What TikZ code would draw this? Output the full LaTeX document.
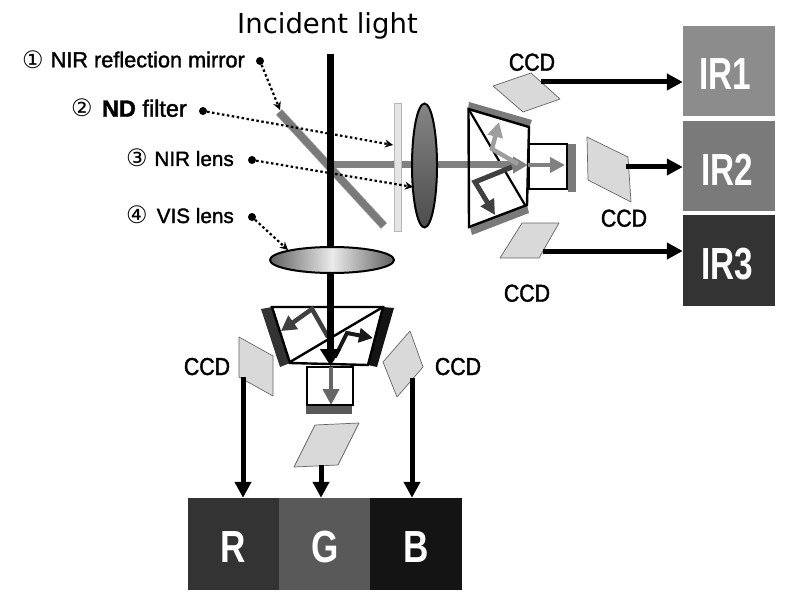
\documentclass[tikz,border=0pt]{standalone}
\usepackage{fontspec}
\setmainfont{Liberation Sans}
\newfontfamily\djv{DejaVu Sans}
\newfontfamily\labf[FakeBold=1.6]{Liberation Sans}
\newfontfamily\ccdf[FakeStretch=0.87,FakeBold=1.6]{Liberation Sans}
\newfontfamily\irf[FakeStretch=0.74]{Liberation Sans}
\newfontfamily\rgbf[FakeStretch=0.78]{Liberation Sans}
\usetikzlibrary{arrows.meta,calc}
\tikzset{
  x=1pt,y=-1pt,
  ccd/.style={draw=black!60,fill=black!15,line width=0.7pt,line join=round},
  prism/.style={draw=black,line width=2.4pt,line join=miter},
  coat/.style={fill=#1,draw=none},
  sig/.style={line width=5pt,-{Triangle[length=16pt,width=16pt]}},
  leader/.style={line width=2.2pt,dash pattern=on 2.5pt off 2.5pt,-{Stealth[length=8pt,width=8pt]}},
  dot/.style={circle,fill=black,inner sep=0pt,minimum size=8pt},
  lab/.style={font=\labf\fontsize{21.7}{22}\selectfont,inner sep=0pt,anchor=base east},
  ccdlab/.style={font=\ccdf\fontsize{24.5}{26}\selectfont,inner sep=0pt,anchor=base},
  chan/.style={inner sep=0pt,minimum height=#1},
  irtext/.style={font=\irf\bfseries\fontsize{45}{46}\selectfont,text=white,inner sep=0pt,anchor=base},
  rgbtext/.style={font=\rgbf\bfseries\fontsize{45}{46}\selectfont,text=white,inner sep=0pt,anchor=base},
  numlab/.style={font=\djv\fontsize{24}{25}\selectfont,inner sep=0pt},
}
\begin{document}
\begin{tikzpicture}
\useasboundingbox (0,0) rectangle (786,596);
% title
\node[font=\djv\fontsize{27.5}{29}\selectfont,inner sep=0pt] (title) at (327.5,26) {Incident light};
% coordinates for light path
\coordinate (in) at (330.5,54);
\coordinate (split) at (330.5,165);
\coordinate (gtop) at (330.5,366);
% mirror
\coordinate (m1) at (279,112);
\coordinate (m2) at (384,226);
\draw[line width=8.4pt,black!35] (m1) -- (m2);
\draw[line width=7pt,black!52,shorten >=0.5pt,shorten <=0.5pt] (m1) -- (m2);
% main black beam
\node[inner sep=0pt,minimum width=124pt,minimum height=26pt] (vislens) at (332,260) {};
\draw[line width=7pt] (in) -- (split);
\draw[line width=7pt] (split) -- (split |- vislens.north);
% horizontal NIR beam
\draw[line width=7pt,black!50] (334,165) -- (470,165);
% ND filter
\node[draw=black!28,fill=black!10,line width=1pt,minimum width=7pt,minimum height=127pt,inner sep=0pt] (nd) at (397.5,167.5) {};
% NIR lens
\draw[top color=black!48,bottom color=black!70,draw=black,line width=2pt] (424.5,165.5) ellipse (12.5 and 62);
\node[inner sep=0pt,minimum width=25pt,minimum height=124pt] (nirlens) at (424.5,165.5) {};
% VIS lens
\draw[left color=black!62,right color=black!62,middle color=black!8,draw=black,line width=2pt] (332,260) ellipse (62 and 13);
% right prism
\path[coat=black!52] (469,102) -- (532,120) -- (529,128) -- (468,110) -- cycle;
\path[coat=black!52] (470,227) -- (472,235) -- (529,213) -- (527,205) -- cycle;
\draw[prism] (468.5,109) -- (529,127) -- (527,205) -- (469,227) -- cycle;
\draw[line width=2.2pt] (468.5,109) -- (525,205);
\node[draw=black,line width=2.2pt,minimum width=38pt,minimum height=45pt,inner sep=0pt] (rbox) at (548,166.5) {};
\node[fill=black!52,minimum width=8pt,minimum height=48pt,inner sep=0pt] (rbar) at (572,168) {};
% right prism rays
\draw[line width=7pt,black!50] (470,165) -- (514,165);
\draw[line width=7pt,black!50,-{Triangle[length=15pt,width=16pt]}] (500,165) -- (528,165);
\draw[line width=4pt,black!50,-{Triangle[length=15pt,width=15pt]}] (528,165) -- (565,165);
\draw[line width=4.5pt,black!38,line join=miter,-{Triangle[length=15pt,width=15pt]}] (518,164) -- (492,149) -- (499,122);
\draw[line width=5pt,black!75,line join=miter,-{Triangle[length=15pt,width=15pt]}] (512,167) -- (475,182) -- (495,215);
% right CCDs
\coordinate (c1a) at (493,86); \coordinate (c1b) at (531,73); \coordinate (c1c) at (560,99); \coordinate (c1d) at (523,112);
\coordinate (c2a) at (587,137); \coordinate (c2b) at (628,157); \coordinate (c2c) at (631,202); \coordinate (c2d) at (588,180);
\coordinate (c3a) at (522,223); \coordinate (c3b) at (559,223); \coordinate (c3c) at (539,258); \coordinate (c3d) at (500,258);
\draw[ccd] (c1a) -- (c1b) -- (c1c) -- (c1d) -- cycle;
\draw[ccd] (c2a) -- (c2b) -- (c2c) -- (c2d) -- cycle;
\draw[ccd] (c3a) -- (c3b) -- (c3c) -- (c3d) -- cycle;
\node[ccdlab] (l1) at (532,70.7) {CCD};
\node[ccdlab] (l2) at (624,226.7) {CCD};
\node[ccdlab] (l3) at (527,301.7) {CCD};
% IR boxes
\node[fill=black!45,chan=90pt,minimum width=92pt] (ir1) at (729,71) {};
\node[fill=black!52,chan=90pt,minimum width=92pt] (ir2) at (729,166) {};
\node[fill=black!80,chan=91pt,minimum width=92pt] (ir3) at (729,260.5) {};
\node[irtext] (ir1t) at (725,90) {IR1};
\node[irtext] (ir2t) at (727,185.5) {IR2};
\node[irtext] (ir3t) at (727,279) {IR3};
\coordinate (c1o) at (541,82); \coordinate (c2o) at (626,167); \coordinate (c3o) at (543,251);
\draw[sig] (c1o) -- (c1o -| ir1.west);
\draw[sig] (c2o) -- (c2o -| ir2.west);
\draw[sig] (c3o) -- (c3o -| ir3.west);
% bottom prism
\path[coat=black!80] (261,309) -- (272,307) -- (290,363) -- (280,367) -- cycle;
\path[coat=black!92] (383,307) -- (394,308) -- (377,367) -- (368,365) -- cycle;
\draw[prism] (272,307) -- (383,307) -- (368,365) -- (290,363) -- cycle;
\draw[line width=2.4pt] (383,307) -- (290,362);
\node[draw=black,line width=2.2pt,minimum width=46pt,minimum height=38pt,inner sep=0pt] (gbox) at (330,386) {};
\node[fill=black!65,minimum width=46pt,minimum height=8pt,inner sep=0pt] (gbar) at (329,410) {};
% bottom rays
\draw[line width=4.5pt,black!75,line join=miter,-{Triangle[length=15pt,width=16pt]}] (328,337) -- (312,309) -- (281,331);
\draw[line width=4pt,black!90,line join=miter,-{Triangle[length=14pt,width=14pt]}] (335,357) -- (347,333) -- (373,338);
\draw[line width=7pt,-{Triangle[length=17pt,width=20pt]}] (split |- vislens.south) -- (gtop);
\draw[line width=4pt,black!60,-{Triangle[length=16pt,width=16pt]}] (331,367) -- (331,405);
% bottom CCDs
\coordinate (d1a) at (239,337); \coordinate (d1b) at (273,356); \coordinate (d1c) at (273,396); \coordinate (d1d) at (239,377);
\coordinate (d2a) at (410,331); \coordinate (d2b) at (423,367); \coordinate (d2c) at (397,397); \coordinate (d2d) at (383,362);
\coordinate (d3a) at (315,425); \coordinate (d3b) at (359,423); \coordinate (d3c) at (338,465); \coordinate (d3d) at (294,467);
\draw[ccd] (d1a) -- (d1b) -- (d1c) -- (d1d) -- cycle;
\draw[ccd] (d2a) -- (d2b) -- (d2c) -- (d2d) -- cycle;
\draw[ccd] (d3a) -- (d3b) -- (d3c) -- (d3d) -- cycle;
\node[ccdlab] (l4) at (207,375) {CCD};
\node[ccdlab] (l5) at (458,375) {CCD};
% RGB boxes
\node[fill=black!80,chan=92pt,minimum width=91pt] (r) at (233.5,544) {};
\node[fill=black!65,chan=92pt,minimum width=91pt] (g) at (324.5,544) {};
\node[fill=black!92,chan=92pt,minimum width=92pt] (b) at (416,544) {};
\node[rgbtext] (rt) at (233,562) {R};
\node[rgbtext] (gt) at (325,562) {G};
\node[rgbtext] (bt) at (416,562) {B};
\coordinate (d1o) at (243,377); \coordinate (d3o) at (321,465); \coordinate (d2o) at (412,378);
\draw[sig] (d1o) -- (d1o |- r.north);
\draw[sig] (d3o) -- (d3o |- g.north);
\draw[sig] (d2o) -- (d2o |- b.north);
% labels
\node[lab] (t1) at (245,67.3) {NIR reflection mirror};
\node[lab,font=\labf\fontsize{23.5}{24}\selectfont] (t2) at (187,116.7) {\textbf{ND} filter};
\node[lab,font=\labf\fontsize{20.7}{22}\selectfont] (t3) at (234,166) {NIR lens};
\node[lab,font=\labf\fontsize{20.7}{22}\selectfont] (t4) at (234,223) {VIS lens};
\node[numlab] (n1) at (33,59.5) {\char"2460};
\node[numlab] (n2) at (82,108) {\char"2461};
\node[numlab] (n3) at (137,158) {\char"2462};
\node[numlab] (n4) at (137,215) {\char"2463};
\node[dot] (p1) at (260,61) {};
\node[dot] (p2) at (203,111) {};
\node[dot] (p3) at (252,160) {};
\node[dot] (p4) at (252,217) {};
\coordinate (a1) at (280,110);
\coordinate (a2) at (393,145);
\coordinate (a3) at (413,187);
\coordinate (a4) at (288,250);
\draw[leader] (p1) -- (a1);
\draw[leader] (p2) -- (a2);
\draw[leader] (p3) -- (a3);
\draw[leader] (p4) -- (a4);
\end{tikzpicture}
\end{document}
